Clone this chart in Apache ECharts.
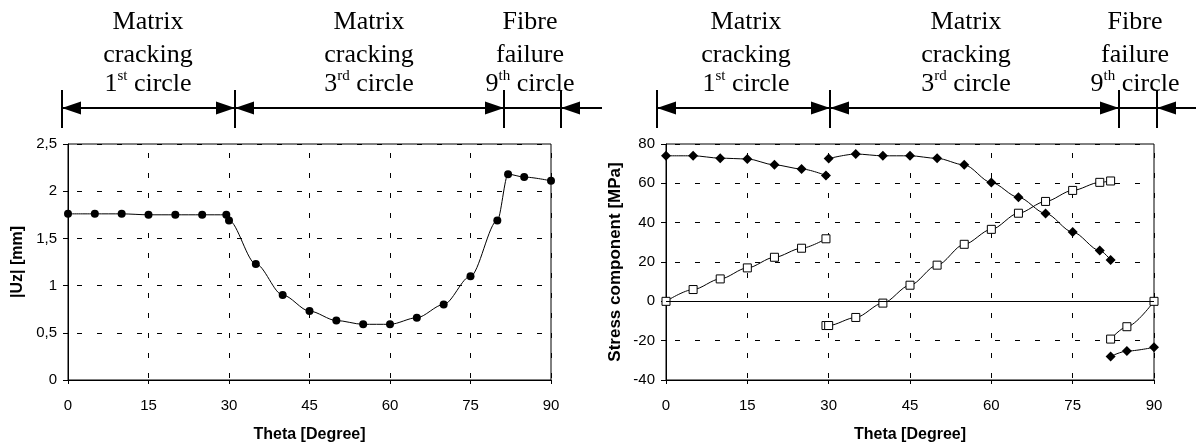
<!DOCTYPE html>
<html>
<head>
<meta charset="utf-8">
<script src="https://cdn.jsdelivr.net/npm/echarts@6/dist/echarts.min.js"></script>
<style>
html, body { margin: 0; padding: 0; background: #fff; }
#main { width: 1196px; height: 448px; }
</style>
</head>
<body>
<div id="main"></div>
<script>
// left panel: |Uz| displacement vs theta
const uzTheta = [0, 5, 10, 15, 20, 25, 29.5, 30, 35, 40, 45, 50, 55, 60, 65, 70, 75, 80, 82, 85, 90];
const uzValues = [1.76, 1.76, 1.76, 1.75, 1.75, 1.75, 1.75, 1.69, 1.23, 0.90, 0.73, 0.63, 0.59, 0.59, 0.66, 0.80, 1.10, 1.69, 2.18, 2.15, 2.11];

// right panel: stress components, one array per failure stage
const diaTheta1 = [0, 5, 10, 15, 20, 25, 29.5];
const diaStress1 = [74, 74, 72.8, 72.4, 69.4, 67.3, 64];
const diaTheta2 = [30, 35, 40, 45, 50, 55, 60, 65, 70, 75, 80, 82];
const diaStress2 = [72.6, 74.9, 74, 74, 72.7, 69.4, 60.4, 52.9, 44.7, 35.2, 25.8, 21];
const diaTheta3 = [82, 85, 90];
const diaStress3 = [-28, -25.3, -23.4];

const sqTheta1 = [0, 5, 10, 15, 20, 25, 29.5];
const sqStress1 = [0, 6, 11.4, 17, 22.4, 27, 31.8];
const sqTheta2 = [29.5, 30, 35, 40, 45, 50, 55, 60, 65, 70, 75, 80, 82];
const sqStress2 = [-12.3, -12.3, -8.2, -0.9, 8.2, 18.4, 29, 36.6, 44.8, 50.8, 56.4, 60.5, 61.2];
const sqTheta3 = [82, 85, 90];
const sqStress3 = [-19.2, -12.9, 0];

// stage labels above each panel
const stageLines = [
  ['Matrix', 'cracking', ['1', 'st']],
  ['Matrix', 'cracking', ['3', 'rd']],
  ['Fibre', 'failure', ['9', 'th']]
];

const zip = (xs, ys) => xs.map((x, i) => [x, ys[i]]);

const sansFont = 'Liberation Sans, Arial, sans-serif';
const serifFam = 'Liberation Serif, Times New Roman, serif';

function xAxisCfg(gridIndex) {
  return {
    type: 'value', gridIndex: gridIndex, min: 0, max: 90, interval: 15,
    name: 'Theta [Degree]', nameLocation: 'middle', nameGap: 47,
    nameTextStyle: { fontFamily: sansFont, fontSize: 16, fontWeight: 'bold', color: '#000' },
    axisLine: { onZero: false, lineStyle: { color: '#000', width: 1 } },
    axisTick: { show: true, length: 4, lineStyle: { color: '#000' } },
    axisLabel: { fontFamily: sansFont, fontSize: 15, color: '#000', margin: 18 },
    splitLine: { show: true, lineStyle: { color: '#000', width: 1, type: [5, 15], dashOffset: -9 } }
  };
}

function yAxisCfg(gridIndex, min, max, interval, name, gap, nameSize) {
  return {
    type: 'value', gridIndex: gridIndex, min: min, max: max, interval: interval,
    name: name, nameLocation: 'middle', nameGap: gap,
    nameTextStyle: { fontFamily: sansFont, fontSize: nameSize, fontWeight: 'bold', color: '#000' },
    axisLine: { show: true, lineStyle: { color: '#000', width: 1 } },
    axisTick: { show: true, length: 5, lineStyle: { color: '#000' } },
    axisLabel: {
      fontFamily: sansFont, fontSize: 15, color: '#000', margin: 11,
      formatter: v => String(v).replace('.', ',')
    },
    splitLine: { show: true, lineStyle: { color: '#000', width: 1, type: [5, 15], dashOffset: -9 } }
  };
}

function lineSeries(data, xi, symbol, size, filled) {
  return {
    type: 'line', xAxisIndex: xi, yAxisIndex: xi, data: data,
    smooth: 0.3, smoothMonotone: 'x',
    symbol: symbol, symbolSize: size, showAllSymbol: true,
    itemStyle: filled ? { color: '#000' } : { color: '#fff', borderColor: '#000', borderWidth: 1 },
    lineStyle: { color: '#000', width: 1 },
    emphasis: { disabled: true },
    z: filled ? 3 : 4
  };
}

// arrows and bars of the stage annotation
function stageGraphics(bars, tailEnd, centers) {
  const els = [];
  const y = 108;
  bars.forEach(bx => els.push({
    type: 'line', shape: { x1: bx, y1: 90, x2: bx, y2: 128 },
    style: { stroke: '#000', lineWidth: 2 }
  }));
  els.push({
    type: 'line', shape: { x1: bars[0], y1: y, x2: tailEnd, y2: y },
    style: { stroke: '#000', lineWidth: 2 }
  });
  const head = (tip, dir) => ({
    type: 'polygon',
    shape: { points: [[tip, y], [tip + dir * 19, y - 6.5], [tip + dir * 19, y + 6.5]] },
    style: { fill: '#000' }
  });
  els.push(head(bars[0], 1), head(bars[1], -1), head(bars[1], 1), head(bars[2], -1), head(bars[3], 1));

  stageLines.forEach((lines, i) => {
    const cx = centers[i];
    [lines[0], lines[1]].forEach((t, j) => els.push({
      type: 'text',
      style: {
        text: t, x: cx, y: j === 0 ? 22 : 55,
        align: 'center', verticalAlign: 'middle',
        textAlign: 'center', textVerticalAlign: 'middle',
        fontFamily: serifFam, fontSize: 26, fill: '#000'
      }
    }));
    els.push({
      type: 'text',
      style: {
        text: '{n|' + lines[2][0] + '}{s|' + lines[2][1] + '}{n| circle}',
        x: cx, y: 84,
        align: 'center', verticalAlign: 'middle',
        textAlign: 'center', textVerticalAlign: 'middle',
        rich: {
          n: { fontFamily: serifFam, fontSize: 26, fill: '#000', lineHeight: 30 },
          s: { fontFamily: serifFam, fontSize: 15, fill: '#000', lineHeight: 20, verticalAlign: 'top' }
        }
      }
    });
  });
  return els;
}

const myChart = echarts.init(document.getElementById('main'), null, { renderer: 'canvas' });

const zeroLine = lineSeries(zip(diaTheta1, diaStress1), 1, 'diamond', 10, true);
zeroLine.markLine = {
  silent: true, symbol: ['none', 'none'], animation: false,
  label: { show: false },
  lineStyle: { color: '#000', width: 1, type: 'solid' },
  data: [{ yAxis: 0 }]
};

const option = {
  animation: false,
  backgroundColor: '#fff',
  grid: [
    { left: 68, top: 144, width: 483, height: 236, show: true, borderColor: '#000', borderWidth: 1, backgroundColor: 'transparent' },
    { left: 666, top: 144, width: 488, height: 236, show: true, borderColor: '#000', borderWidth: 1, backgroundColor: 'transparent' }
  ],
  xAxis: [xAxisCfg(0), xAxisCfg(1)],
  yAxis: [
    yAxisCfg(0, 0, 2.5, 0.5, '|Uz| [mm]', 42, 16),
    yAxisCfg(1, -40, 80, 20, 'Stress component [MPa]', 42, 17)
  ],
  series: [
    lineSeries(zip(uzTheta, uzValues), 0, 'circle', 8, true),
    zeroLine,
    lineSeries(zip(diaTheta2, diaStress2), 1, 'diamond', 10, true),
    lineSeries(zip(diaTheta3, diaStress3), 1, 'diamond', 10, true),
    lineSeries(zip(sqTheta1, sqStress1), 1, 'rect', 8, false),
    lineSeries(zip(sqTheta2, sqStress2), 1, 'rect', 8, false),
    lineSeries(zip(sqTheta3, sqStress3), 1, 'rect', 8, false)
  ],
  graphic: [].concat(
    stageGraphics([62, 235, 504, 561], 602, [148, 369, 530]),
    stageGraphics([657, 830, 1119, 1157], 1196, [746, 966, 1135])
  )
};

myChart.setOption(option);
window.addEventListener('resize', function () { myChart.resize(); });
</script>
</body>
</html>
